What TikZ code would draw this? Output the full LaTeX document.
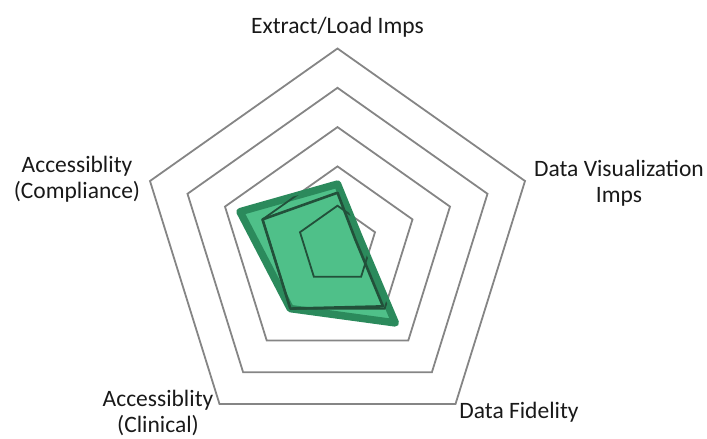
\documentclass[tikz,border=0pt]{standalone}
\usepackage{fontspec}
\setmainfont{Carlito}
\definecolor{gridgray}{HTML}{858585}
\definecolor{fillgreen}{HTML}{4FC089}
\definecolor{edgegreen}{HTML}{2B8A5C}
\definecolor{darkline}{HTML}{22503A}
\newcommand{\radarpath}[5]{(0,{-39.3*#1}) -- ({37.5*#2},{-12.8*#2}) -- ({23.6*#3},{31.8*#3}) -- ({-23.6*#4},{31.8*#4}) -- ({-37.5*#5},{-12.8*#5}) -- cycle}

\begin{document}
\begin{tikzpicture}[x=1pt,y=-1pt,
    ring/.style={draw=gridgray,line width=1.8pt,line join=miter},
    axislabel/.style={align=center,text=black!90,font=\fontsize{23.5}{26}\selectfont}
  ]
  \useasboundingbox (0,0) rectangle (707,439);
  \begin{scope}[shift={(337.5,245)}]
    \foreach \r in {1,...,5}
      \draw[ring] \radarpath{\r}{\r}{\r}{\r}{\r};
    \path[fill=fillgreen,draw=edgegreen,line width=7.5pt,line join=round] \radarpath{1.55}{0.58}{2.45}{2.0}{2.6};
    \begin{scope}
      \clip \radarpath{1.55}{0.58}{2.45}{2.0}{2.6};
      \foreach \r in {1,2}
        \draw[ring,draw=darkline] \radarpath{\r}{\r}{\r}{\r}{\r};
    \end{scope}
    \draw[darkline,line width=2.6pt,line join=round] \radarpath{1.33}{0.47}{1.93}{2.0}{2.0};
  \end{scope}
  \node[axislabel] (extract) at (337.5,27) {Extract/Load Imps};
  \node[axislabel] (dataviz) at (619,183) {Data Visualization\\Imps};
  \node[axislabel] (fidelity) at (519,412) {Data Fidelity};
  \node[axislabel] (clinical) at (158,413) {Accessiblity\\(Clinical)};
  \node[axislabel] (compliance) at (77,179) {Accessiblity\\(Compliance)};
\end{tikzpicture}
\end{document}
